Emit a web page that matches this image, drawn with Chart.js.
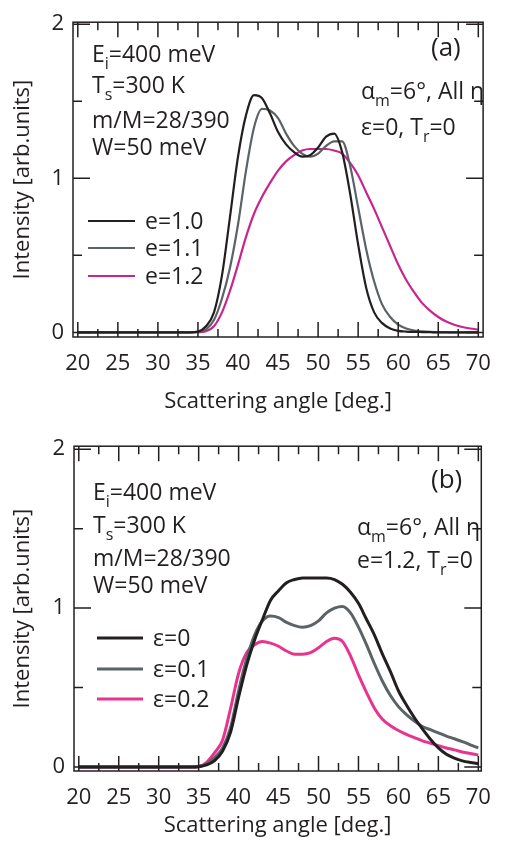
<!DOCTYPE html>
<html>
<head>
<meta charset="utf-8">
<script src="https://cdn.jsdelivr.net/npm/chart.js@4.4.1/dist/chart.umd.min.js"></script>
<style>
  body { margin: 0; background: #fff; }
  .panel { position: absolute; left: 0; width: 505px; height: 424px; }
</style>
</head>
<body>
<div class="panel" style="top:0"><canvas id="chartA"></canvas></div>
<div class="panel" style="top:424px"><canvas id="chartB"></canvas></div>
<script>
// scattering angles (deg.)
const angles = [20, 34, 35, 36, 37, 38, 39, 40, 41, 42, 43, 44, 45, 46, 47, 48, 49, 50, 51, 52,
  53, 54, 55, 56, 57, 58, 59, 60, 61, 62, 63, 64, 65, 66, 67, 68, 69, 70];

// panel (a): eps=0, Tr=0
const aE10 = [0, 0, 0.005, 0.04, 0.13, 0.37, 0.75, 1.14, 1.41, 1.54, 1.52, 1.42, 1.30, 1.22, 1.17, 1.14, 1.15, 1.20, 1.27, 1.29,
  1.17, 0.90, 0.57, 0.29, 0.13, 0.06, 0.025, 0.01, 0.005, 0.003, 0.002, 0.001, 0, 0, 0, 0, 0, 0];
const aE11 = [0, 0, 0.003, 0.02, 0.08, 0.22, 0.42, 0.70, 1.05, 1.33, 1.45, 1.44, 1.39, 1.29, 1.21, 1.16, 1.14, 1.16, 1.21, 1.24,
  1.24, 1.08, 0.81, 0.54, 0.33, 0.18, 0.10, 0.05, 0.025, 0.012, 0.006, 0.003, 0.002, 0.001, 0, 0, 0, 0];
const aE12 = [0, 0, 0.001, 0.008, 0.04, 0.13, 0.27, 0.44, 0.62, 0.77, 0.88, 0.97, 1.05, 1.11, 1.15, 1.18, 1.19, 1.19, 1.19, 1.18,
  1.16, 1.10, 1.02, 0.91, 0.80, 0.68, 0.56, 0.44, 0.34, 0.26, 0.19, 0.14, 0.10, 0.07, 0.05, 0.035, 0.025, 0.018];

// panel (b): e=1.2, Tr=0
const bEps0 = [0, 0, 0.002, 0.013, 0.04, 0.10, 0.22, 0.44, 0.64, 0.80, 0.93, 1.05, 1.11, 1.16, 1.18, 1.19, 1.19, 1.19, 1.19, 1.18,
  1.15, 1.10, 1.03, 0.93, 0.83, 0.71, 0.60, 0.48, 0.39, 0.31, 0.24, 0.175, 0.12, 0.08, 0.056, 0.039, 0.029, 0.022];
const bEps1 = [0, 0, 0.003, 0.02, 0.06, 0.12, 0.25, 0.48, 0.68, 0.83, 0.92, 0.95, 0.94, 0.91, 0.89, 0.88, 0.89, 0.92, 0.97, 1.00,
  1.01, 0.97, 0.88, 0.77, 0.65, 0.54, 0.45, 0.38, 0.33, 0.29, 0.255, 0.235, 0.215, 0.195, 0.178, 0.16, 0.14, 0.12];
const bEps2 = [0, 0, 0.003, 0.03, 0.09, 0.17, 0.37, 0.59, 0.72, 0.77, 0.79, 0.78, 0.76, 0.73, 0.71, 0.71, 0.72, 0.75, 0.79, 0.81,
  0.79, 0.70, 0.58, 0.47, 0.37, 0.30, 0.26, 0.23, 0.205, 0.185, 0.165, 0.15, 0.135, 0.12, 0.108, 0.095, 0.085, 0.075];

const xTicks = [20, 25, 30, 35, 40, 45, 50, 55, 60, 65, 70];
const yTicks = [0, 1, 2];

const ink = '#231f20';
const FONT = '"Open Sans", "DejaVu Sans", sans-serif';
const AX = 22;   // axis text size
const NT = 23;   // note text size

function pts(arr) {
  return angles.map((x, i) => ({x: x, y: arr[i]}));
}

// text with sub/superscripts: parts = [[text, ''|'sub'|'sup'], ...]
function drawRich(ctx, x, y, parts, size) {
  let cx = x;
  parts.forEach(([txt, mode]) => {
    const s = mode ? Math.round(size * 0.68) : size;
    const dy = mode === 'sub' ? size * 0.3 : (mode === 'sup' ? -size * 0.4 : 0);
    ctx.font = s + 'px ' + FONT;
    ctx.fillText(txt, cx, y + dy);
    cx += ctx.measureText(txt).width;
  });
}

const framePlugin = {
  id: 'frame',
  afterDraw(chart, args, opts) {
    const {ctx, chartArea: a} = chart;
    const x = chart.scales.x, y = chart.scales.y;
    ctx.save();
    ctx.strokeStyle = ink;
    ctx.lineWidth = 1.5;
    ctx.strokeRect(a.left, a.top, a.right - a.left, a.bottom - a.top);

    // inward ticks, minor ones halfway between labels
    ctx.beginPath();
    xTicks.forEach((v, i) => {
      const list = [[v, 15]];
      if (i < xTicks.length - 1) list.push([(v + xTicks[i + 1]) / 2, 8]);
      list.forEach(([t, len]) => {
        const px = x.getPixelForValue(t);
        ctx.moveTo(px, a.bottom); ctx.lineTo(px, a.bottom - len);
        ctx.moveTo(px, a.top); ctx.lineTo(px, a.top + len);
      });
    });
    yTicks.forEach((v, i) => {
      const list = [[v, 17]];
      if (i < yTicks.length - 1) list.push([(v + yTicks[i + 1]) / 2, 9]);
      list.forEach(([t, len]) => {
        const py = y.getPixelForValue(t);
        ctx.moveTo(a.left, py); ctx.lineTo(a.left + len, py);
        ctx.moveTo(a.right, py); ctx.lineTo(a.right - len, py);
      });
    });
    ctx.stroke();

    ctx.fillStyle = ink;
    ctx.textBaseline = 'alphabetic';
    ctx.textAlign = 'left';
    opts.notes.forEach(n => drawRich(ctx, n.x, n.y, n.parts, n.size || NT));

    // legend
    const lg = opts.legend;
    chart.data.datasets.forEach((ds, i) => {
      const ly = lg.ys[i];
      ctx.strokeStyle = ds.borderColor;
      ctx.lineWidth = ds.borderWidth;
      ctx.beginPath();
      ctx.moveTo(lg.x0, ly); ctx.lineTo(lg.x1, ly);
      ctx.stroke();
      ctx.fillStyle = ink;
      ctx.font = NT + 'px ' + FONT;
      ctx.textBaseline = 'middle';
      ctx.fillText(ds.label, lg.tx, ly + 1);
    });
    ctx.restore();
  }
};

function makeChart(id, sets, cfg) {
  const ctx = document.getElementById(id).getContext('2d');
  return new Chart(ctx, {
    type: 'line',
    data: {
      datasets: sets.map(s => ({
        label: s.label,
        data: pts(s.data),
        borderColor: s.color,
        borderWidth: cfg.lw,
        pointRadius: 0,
        fill: false,
        cubicInterpolationMode: 'monotone'
      }))
    },
    options: {
      responsive: true,
      maintainAspectRatio: false,
      animation: false,
      layout: {padding: {top: cfg.top, right: cfg.right, left: 0, bottom: 0}},
      plugins: {
        legend: {display: false},
        tooltip: {enabled: false},
        frame: {notes: cfg.notes, legend: cfg.legend}
      },
      scales: {
        x: {
          type: 'linear',
          min: 19.4,
          max: cfg.xmax,
          grid: {display: false, drawTicks: false},
          border: {display: false},
          afterBuildTicks: s => { s.ticks = xTicks.map(v => ({value: v})); },
          afterFit: s => { s.height = cfg.xh; },
          ticks: {
            color: ink, padding: 14, maxRotation: 0, minRotation: 0, autoSkip: false,
            font: {family: FONT, size: AX}
          },
          title: {
            display: true, text: 'Scattering angle [deg.]', color: ink,
            font: {family: FONT, size: AX}, padding: {top: 0, bottom: 9}
          }
        },
        y: {
          min: cfg.ymin,
          max: cfg.ymax,
          grid: {display: false, drawTicks: false},
          border: {display: false},
          afterBuildTicks: s => { s.ticks = yTicks.map(v => ({value: v})); },
          afterFit: s => { s.width = cfg.yw; },
          ticks: {color: ink, padding: 9, font: {family: FONT, size: AX}},
          title: {
            display: true, text: 'Intensity [arb.units]', color: ink,
            font: {family: FONT, size: AX}, padding: {top: 10, bottom: 0}
          }
        }
      }
    },
    plugins: [framePlugin]
  });
}

const infoLines = [
  [['E', ''], ['i', 'sub'], ['=400 meV', '']],
  [['T', ''], ['s', 'sub'], ['=300 K', '']],
  [['m/M=28/390', '']],
  [['W=50 meV', '']]
];

makeChart('chartA', [
  {label: 'e=1.0', data: aE10, color: '#231f20'},
  {label: 'e=1.1', data: aE11, color: '#5b6366'},
  {label: 'e=1.2', data: aE12, color: '#c9258e'}
], {
  lw: 2.2, top: 12, right: 10, xh: 87, yw: 73, xmax: 70.6, ymin: -0.03, ymax: 2.013,
  notes: [
    {x: 92, y: 62, parts: infoLines[0]},
    {x: 92, y: 93, parts: infoLines[1]},
    {x: 92, y: 128, parts: infoLines[2]},
    {x: 92, y: 155, parts: infoLines[3]},
    {x: 431, y: 56, parts: [['(a)', '']], size: 26},
    {x: 361, y: 99, parts: [['α', ''], ['m', 'sub'], ['=6°, All η', '']]},
    {x: 361, y: 135, parts: [['ε=0, T', ''], ['r', 'sub'], ['=0', '']]}
  ],
  legend: {x0: 88, x1: 135, tx: 145, ys: [221, 248, 276]}
});

makeChart('chartB', [
  {label: 'ε=0', data: bEps0, color: '#231f20'},
  {label: 'ε=0.1', data: bEps1, color: '#5b6366'},
  {label: 'ε=0.2', data: bEps2, color: '#e8338f'}
], {
  lw: 3, top: 21, right: 12, xh: 77, yw: 74, xmax: 70.37, ymin: -0.025, ymax: 2.019,
  notes: [
    {x: 93, y: 76, parts: infoLines[0]},
    {x: 93, y: 109, parts: infoLines[1]},
    {x: 93, y: 142, parts: infoLines[2]},
    {x: 93, y: 169, parts: infoLines[3]},
    {x: 431, y: 64, parts: [['(b)', '']], size: 26},
    {x: 357, y: 111, parts: [['α', ''], ['m', 'sub'], ['=6°, All η', '']]},
    {x: 357, y: 144, parts: [['e=1.2, T', ''], ['r', 'sub'], ['=0', '']]}
  ],
  legend: {x0: 97, x1: 143, tx: 153, ys: [214, 245, 275]}
});
</script>
</body>
</html>
